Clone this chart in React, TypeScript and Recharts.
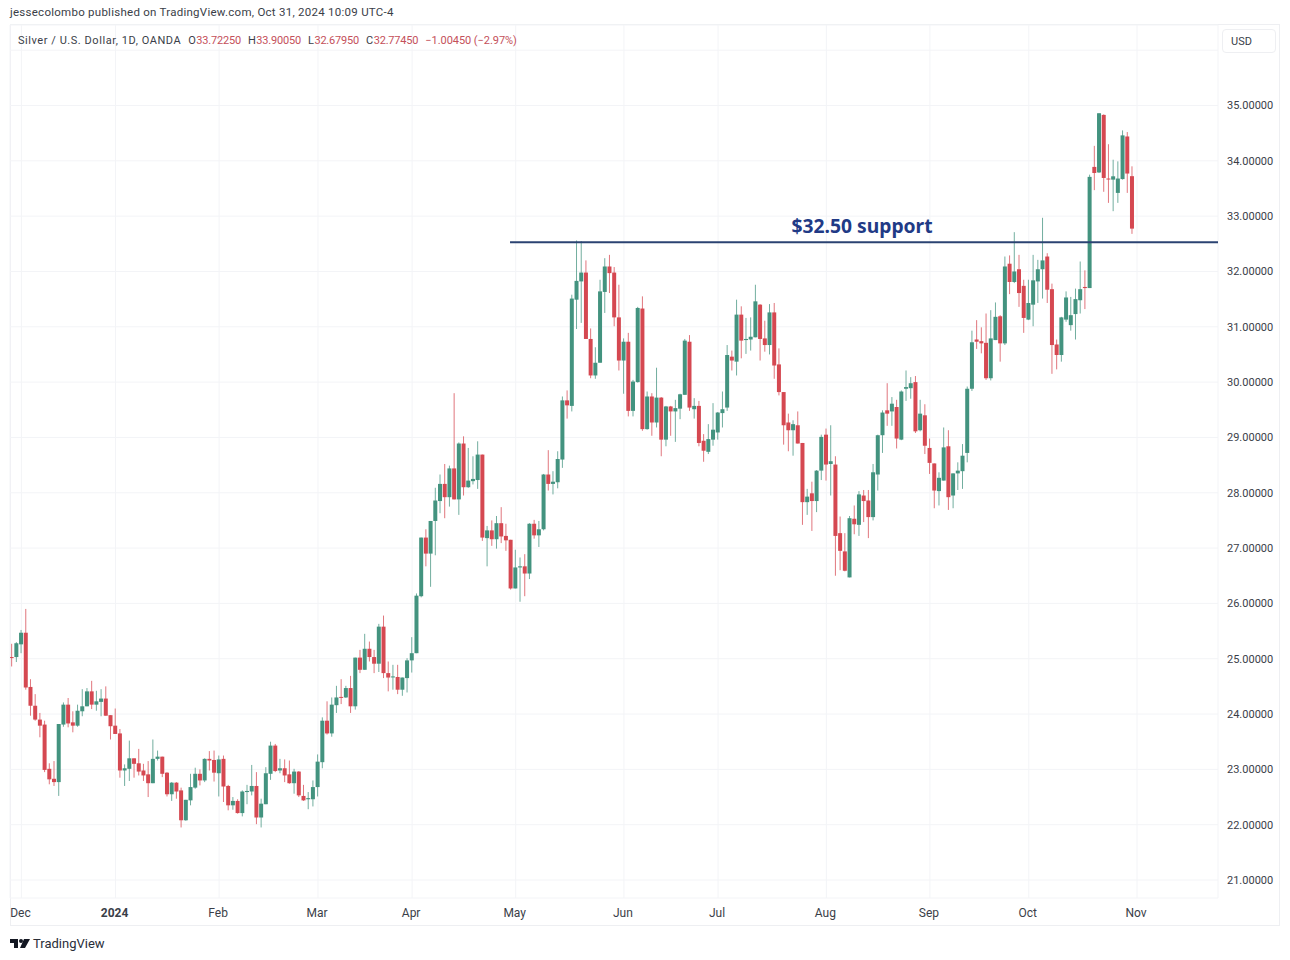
import React from 'react';
import { Bar, CartesianGrid, ComposedChart, ReferenceLine, XAxis, YAxis } from 'recharts';

const opens = [
  25.03, 25.03, 25.26, 25.47, 24.49, 24.15, 23.90, 23.81, 23.01, 22.83,
  22.77, 23.81, 24.17, 23.85, 23.79, 24.05, 24.14, 24.41, 24.17, 24.22,
  24.28, 23.98, 23.79, 23.65, 22.98, 23.01, 23.20, 23.11, 22.98, 22.91,
  22.75, 23.19, 23.23, 22.94, 22.55, 22.76, 22.62, 22.08, 22.44, 22.67,
  22.92, 22.80, 23.19, 23.17, 22.93, 23.19, 22.70, 22.35, 22.43, 22.21,
  22.59, 22.60, 22.70, 22.13, 22.37, 22.92, 23.43, 22.98, 23.02, 22.91,
  22.75, 22.96, 22.52, 22.46, 22.46, 22.68, 23.13, 23.88, 23.65, 24.16,
  24.31, 24.30, 24.47, 24.14, 25.02, 24.80, 25.18, 25.03, 24.91, 25.58,
  24.74, 24.67, 24.67, 24.44, 24.65, 24.97, 25.10, 26.13, 27.19, 26.90,
  27.49, 27.85, 28.16, 27.92, 28.44, 27.88, 28.89, 28.10, 28.21, 28.23,
  28.69, 27.18, 27.32, 27.16, 27.45, 27.22, 27.15, 26.27, 26.65, 26.67,
  26.54, 27.44, 27.23, 27.34, 28.33, 28.16, 28.19, 28.60, 29.67, 29.57,
  31.49, 31.82, 31.98, 30.78, 30.12, 30.35, 31.63, 32.09, 31.98, 31.17,
  30.39, 30.73, 29.48, 30.00, 31.33, 29.15, 29.74, 29.27, 29.72, 28.96,
  29.56, 29.47, 29.52, 29.77, 30.73, 29.51, 29.57, 28.94, 28.74, 28.96,
  29.09, 29.44, 29.54, 30.46, 30.37, 31.22, 30.76, 30.77, 30.81, 31.40,
  30.79, 30.67, 31.26, 30.32, 29.82, 29.27, 29.13, 29.22, 28.90, 27.83,
  27.99, 27.85, 28.40, 29.05, 28.52, 28.51, 27.27, 26.94, 26.47, 27.53,
  27.42, 27.95, 27.86, 27.56, 28.33, 29.04, 29.49, 29.47, 29.55, 28.96,
  29.88, 29.89, 30.00, 29.13, 29.40, 28.81, 28.53, 28.03, 28.22, 28.84,
  27.95, 28.35, 28.39, 28.72, 29.88, 30.77, 30.74, 30.71, 30.07, 30.76,
  31.19, 30.70, 32.14, 31.81, 32.04, 31.74, 31.13, 31.40, 31.82, 32.04,
  32.27, 31.68, 30.68, 30.49, 31.13, 31.03, 31.23, 31.48, 31.72, 31.70,
  33.89, 33.79, 34.83, 33.68, 33.66, 33.42, 33.67, 34.44, 33.7225,
];

const closes = [
  25.02, 25.28, 25.47, 24.48, 24.15, 23.90, 23.79, 22.99, 22.82, 22.77,
  23.82, 24.17, 23.83, 23.79, 24.06, 24.14, 24.41, 24.17, 24.23, 24.28,
  23.97, 23.78, 23.64, 22.98, 23.02, 23.20, 23.10, 22.96, 22.89, 22.75,
  23.19, 23.23, 22.92, 22.55, 22.76, 22.60, 22.08, 22.45, 22.68, 22.92,
  22.80, 23.19, 23.16, 22.94, 23.18, 22.69, 22.35, 22.43, 22.21, 22.60,
  22.61, 22.70, 22.13, 22.38, 22.93, 23.43, 22.97, 23.02, 22.89, 22.75,
  22.96, 22.53, 22.44, 22.48, 22.68, 23.14, 23.88, 23.65, 24.17, 24.30,
  24.30, 24.47, 24.14, 25.02, 24.80, 25.18, 25.03, 24.91, 25.58, 24.74,
  24.66, 24.68, 24.44, 24.66, 24.97, 25.10, 26.14, 27.19, 26.90, 27.49,
  27.86, 28.16, 27.92, 28.44, 27.88, 28.89, 28.10, 28.22, 28.25, 28.69,
  27.19, 27.32, 27.16, 27.45, 27.21, 27.14, 26.27, 26.65, 26.67, 26.54,
  27.44, 27.23, 27.34, 28.33, 28.16, 28.20, 28.61, 29.67, 29.58, 31.51,
  31.83, 31.98, 30.78, 30.12, 30.35, 31.64, 32.09, 31.97, 31.17, 30.39,
  30.73, 29.48, 30.01, 31.34, 29.15, 29.74, 29.27, 29.72, 28.96, 29.56,
  29.47, 29.53, 29.78, 30.75, 29.54, 29.57, 28.90, 28.76, 28.97, 29.14,
  29.45, 29.51, 30.49, 30.39, 31.22, 30.75, 30.78, 30.82, 31.46, 30.78,
  30.67, 31.26, 30.30, 29.82, 29.22, 29.13, 29.24, 28.89, 27.83, 27.93,
  27.85, 28.40, 29.01, 28.51, 28.57, 27.22, 26.95, 26.59, 27.54, 27.43,
  27.97, 27.85, 27.56, 28.37, 29.04, 29.45, 29.43, 29.61, 28.98, 29.83,
  29.91, 29.98, 29.11, 29.43, 28.85, 28.54, 28.04, 28.27, 28.82, 27.92,
  28.35, 28.40, 28.67, 29.88, 30.72, 30.73, 30.70, 30.07, 30.79, 31.18,
  30.70, 32.09, 31.81, 32.00, 31.61, 31.16, 31.43, 31.84, 32.04, 32.20,
  31.67, 30.67, 30.49, 31.17, 31.53, 31.21, 31.50, 31.68, 31.70, 33.71,
  33.78, 34.86, 33.69, 33.67, 33.72, 33.68, 34.46, 33.77, 32.7745,
];

const highs = [
  25.27, 25.30, 25.52, 25.90, 24.63, 24.36, 24.02, 23.88, 23.11, 23.15,
  23.82, 24.21, 24.29, 24.05, 24.17, 24.45, 24.47, 24.60, 24.42, 24.45,
  24.50, 23.98, 24.10, 23.73, 23.09, 23.52, 23.20, 23.37, 23.10, 23.15,
  23.54, 23.34, 23.23, 22.95, 22.77, 22.77, 22.67, 22.45, 22.92, 23.03,
  23.00, 23.20, 23.33, 23.34, 23.25, 23.25, 22.72, 22.50, 22.46, 22.62,
  22.72, 23.08, 22.95, 22.47, 23.04, 23.50, 23.46, 23.19, 23.18, 23.16,
  23.01, 22.97, 22.72, 22.59, 22.80, 23.27, 23.94, 24.23, 24.30, 24.51,
  24.63, 24.51, 24.69, 25.02, 25.16, 25.45, 25.31, 25.16, 25.63, 25.78,
  24.95, 24.89, 24.89, 24.66, 25.01, 25.39, 26.18, 27.19, 27.34, 27.49,
  28.09, 28.33, 28.52, 28.49, 29.80, 28.91, 29.02, 28.81, 28.66, 28.93,
  28.69, 27.40, 27.50, 27.58, 27.74, 27.44, 27.15, 26.97, 26.83, 26.89,
  27.45, 27.51, 27.49, 28.34, 28.77, 28.39, 28.75, 29.74, 29.85, 31.58,
  32.56, 32.55, 32.20, 30.97, 30.63, 31.85, 32.24, 32.30, 32.08, 31.76,
  30.79, 30.89, 30.04, 31.36, 31.55, 29.83, 29.80, 30.26, 29.73, 29.57,
  29.57, 29.68, 29.79, 30.78, 30.85, 29.71, 29.66, 29.06, 29.24, 29.62,
  29.46, 29.83, 30.67, 30.57, 31.49, 31.37, 31.16, 31.17, 31.76, 31.41,
  31.11, 31.41, 31.43, 30.61, 29.82, 29.43, 29.31, 29.47, 28.90, 28.07,
  28.20, 28.41, 29.05, 29.16, 29.22, 28.66, 27.57, 27.27, 27.58, 27.77,
  28.03, 28.05, 28.05, 28.52, 29.05, 29.49, 29.98, 29.73, 29.68, 29.85,
  30.21, 30.09, 30.11, 29.68, 29.60, 28.98, 28.53, 28.37, 29.18, 29.13,
  28.35, 28.55, 28.88, 29.92, 30.93, 31.12, 30.99, 31.24, 31.30, 31.44,
  31.21, 32.27, 32.29, 32.71, 32.30, 31.85, 31.85, 32.30, 32.21, 32.97,
  32.33, 31.78, 30.77, 31.18, 31.64, 31.54, 31.69, 32.18, 32.02, 33.75,
  34.27, 34.86, 34.84, 34.30, 34.02, 33.99, 34.55, 34.52, 33.9005,
];

const lows = [
  24.86, 24.94, 25.10, 24.44, 23.97, 23.88, 23.58, 22.95, 22.73, 22.70,
  22.52, 23.77, 23.76, 23.67, 23.77, 23.96, 24.14, 24.09, 24.06, 23.96,
  23.97, 23.54, 23.64, 22.85, 22.70, 22.79, 22.85, 22.89, 22.79, 22.50,
  22.75, 23.16, 22.86, 22.51, 22.43, 22.47, 21.95, 22.07, 22.35, 22.65,
  22.71, 22.77, 22.98, 22.78, 22.51, 22.41, 22.26, 22.27, 22.20, 22.15,
  22.37, 22.53, 22.01, 21.95, 22.37, 22.81, 22.95, 22.93, 22.77, 22.74,
  22.56, 22.50, 22.43, 22.28, 22.33, 22.51, 23.02, 23.63, 23.59, 24.02,
  24.18, 24.29, 24.02, 24.08, 24.74, 24.80, 24.95, 24.74, 24.76, 24.65,
  24.41, 24.44, 24.36, 24.33, 24.39, 24.75, 25.10, 26.11, 26.67, 26.30,
  26.87, 27.63, 27.54, 27.75, 27.88, 27.60, 27.95, 28.09, 28.15, 28.07,
  27.13, 26.67, 27.04, 26.99, 27.09, 26.95, 26.25, 26.27, 26.03, 26.13,
  26.44, 27.17, 27.02, 27.32, 28.04, 27.97, 28.08, 28.45, 29.34, 29.47,
  30.96, 31.07, 30.78, 30.07, 30.06, 30.35, 31.25, 31.61, 31.01, 30.21,
  29.79, 29.38, 29.38, 29.99, 29.12, 29.14, 29.03, 29.18, 28.66, 28.84,
  29.03, 28.92, 29.33, 29.77, 29.48, 29.34, 28.84, 28.56, 28.70, 28.85,
  28.96, 29.18, 29.48, 30.21, 30.12, 30.43, 30.51, 30.57, 30.81, 30.39,
  30.55, 30.50, 30.06, 29.76, 28.87, 28.75, 28.67, 28.89, 27.42, 27.60,
  27.31, 27.65, 28.23, 28.22, 27.95, 26.50, 26.60, 26.58, 26.47, 27.25,
  27.22, 27.47, 27.18, 27.50, 28.04, 28.72, 29.21, 29.21, 28.80, 28.95,
  29.66, 29.70, 29.08, 29.11, 28.70, 28.34, 27.72, 27.77, 28.22, 27.69,
  27.72, 28.05, 28.07, 28.55, 29.84, 30.60, 30.52, 30.04, 30.03, 30.76,
  30.37, 30.67, 31.59, 31.79, 31.36, 30.89, 31.12, 31.01, 31.43, 31.51,
  31.43, 30.15, 30.23, 30.37, 31.09, 30.93, 30.77, 31.24, 31.32, 31.70,
  33.47, 33.78, 33.44, 33.24, 33.09, 33.24, 33.66, 33.42, 32.6795,
];

const monthTicks = [2, 22, 44, 65, 85, 107, 130, 150, 173, 195, 216, 239];
const monthLabels = ['Dec', '2024', 'Feb', 'Mar', 'Apr', 'May', 'Jun', 'Jul', 'Aug', 'Sep', 'Oct', 'Nov'];
const priceTicks = [21, 22, 23, 24, 25, 26, 27, 28, 29, 30, 31, 32, 33, 34, 35, 36];

const supportLevel = 32.53;
const supportStart = 105.8;

const UP = '#43937f';
const DOWN = '#d54851';
const FONT = 'Roboto, "Noto Sans", sans-serif';

const chartData = opens.map((open, i) => ({
  idx: i,
  open,
  close: closes[i],
  range: [lows[i], highs[i]],
}));

// bar gets the low-high range, open and close are placed from the same px/unit
const Candle = (props: any) => {
  const { x, y, width, height, payload } = props;
  const [low, high] = payload.range;
  const perUnit = height / (high - low);
  const top = y + (high - Math.max(payload.open, payload.close)) * perUnit;
  const bottom = y + (high - Math.min(payload.open, payload.close)) * perUnit;
  const color = payload.close >= payload.open ? UP : DOWN;
  const cx = x + width / 2;
  return (
    <g>
      <line x1={cx} x2={cx} y1={y} y2={y + height} stroke={color} strokeWidth={1} strokeOpacity={0.75} />
      <rect x={x} y={top} width={width} height={Math.max(bottom - top, 1)} fill={color} />
    </g>
  );
};

const MonthTick = (props: any) => {
  const { x, y, payload } = props;
  const label = monthLabels[monthTicks.indexOf(payload.value)];
  return (
    <text
      x={x - 1}
      y={y + 11}
      textAnchor="middle"
      fontFamily={FONT}
      fontSize={12}
      fontWeight={label === '2024' ? 700 : 400}
      fill="#3a3e48"
    >
      {label}
    </text>
  );
};

const App = () => {
  return (
    <div style={{ position: 'absolute', left: 0, top: 0, width: 1290, height: 960, fontFamily: FONT, background: '#fff' }}>
      <div style={{ position: 'absolute', left: 10, top: 5, fontSize: 11.5, color: '#3a3e48', letterSpacing: 0.26, whiteSpace: 'nowrap' }}>
        jessecolombo published on TradingView.com, Oct 31, 2024 10:09 UTC-4
      </div>
      <div style={{ position: 'absolute', left: 10, top: 24, width: 1270, height: 902, border: '1px solid #eeeff2', boxSizing: 'border-box' }} />
      <ComposedChart
        width={1290}
        height={960}
        data={chartData}
        margin={{ top: 25, right: 10, bottom: 0, left: 10 }}
        style={{ position: 'absolute', left: 0, top: 0 }}
      >
        <CartesianGrid stroke="#f3f4f7" strokeWidth={1} />
        <XAxis
          dataKey="idx"
          type="number"
          domain={[-0.425, 256.2]}
          ticks={monthTicks}
          interval={0}
          height={62}
          axisLine={false}
          tickLine={false}
          allowDataOverflow
          tick={<MonthTick />}
        />
        <YAxis
          orientation="right"
          type="number"
          domain={[20.675, 36.455]}
          ticks={priceTicks}
          interval={0}
          width={62}
          axisLine={false}
          tickLine={false}
          tickMargin={3}
          allowDataOverflow
          tick={{ fontSize: 11, fill: '#3a3e48', fontFamily: FONT }}
          tickFormatter={(v: number) => (v === 36 ? '' : v.toFixed(5))}
        />
        <Bar dataKey="range" barSize={4} isAnimationActive={false} shape={<Candle />} />
        <ReferenceLine
          segment={[
            { x: supportStart, y: supportLevel },
            { x: 256.2, y: supportLevel },
          ]}
          stroke="#2b4372"
          strokeWidth={2}
          label={{
            value: '$32.50 support',
            position: 'top',
            offset: 9,
            dx: -2,
            fontSize: 19.3,
            fontWeight: 700,
            fontFamily: '"Noto Sans", sans-serif',
            fill: '#213a86',
          }}
        />
      </ComposedChart>
      <div style={{ position: 'absolute', left: 18, top: 34, fontSize: 11, color: '#3a3e48', letterSpacing: 0.55, whiteSpace: 'nowrap' }}>
        Silver / U.S. Dollar, 1D, OANDA
        <span style={{ marginLeft: 7 }}>O</span><span style={{ color: '#c4505a', letterSpacing: -0.2 }}>33.72250</span>
        <span style={{ marginLeft: 7 }}>H</span><span style={{ color: '#c4505a', letterSpacing: -0.2 }}>33.90050</span>
        <span style={{ marginLeft: 7 }}>L</span><span style={{ color: '#c4505a', letterSpacing: -0.2 }}>32.67950</span>
        <span style={{ marginLeft: 7 }}>C</span><span style={{ color: '#c4505a', letterSpacing: -0.2 }}>32.77450</span>
        <span style={{ marginLeft: 7, color: '#c4505a', letterSpacing: -0.05 }}>−1.00450 (−2.97%)</span>
      </div>
      <div style={{ position: 'absolute', left: 1222, top: 29, width: 54, height: 24, border: '1px solid #eeeff2', borderRadius: 4, boxSizing: 'border-box', fontSize: 11, color: '#3a3e48', lineHeight: '24px', paddingLeft: 8 }}>
        USD
      </div>
      <svg width={20} height={10} style={{ position: 'absolute', left: 10, top: 939 }}>
        <path d="M0 0H8V9H4V4H0Z M14 0H20L15 9H10Z" fill="#131722" />
        <circle cx={11} cy={2} r={2} fill="#131722" />
      </svg>
      <div style={{ position: 'absolute', left: 33, top: 936, fontSize: 13, color: '#2a2e39', whiteSpace: 'nowrap' }}>
        TradingView
      </div>
    </div>
  );
};

export default App;
